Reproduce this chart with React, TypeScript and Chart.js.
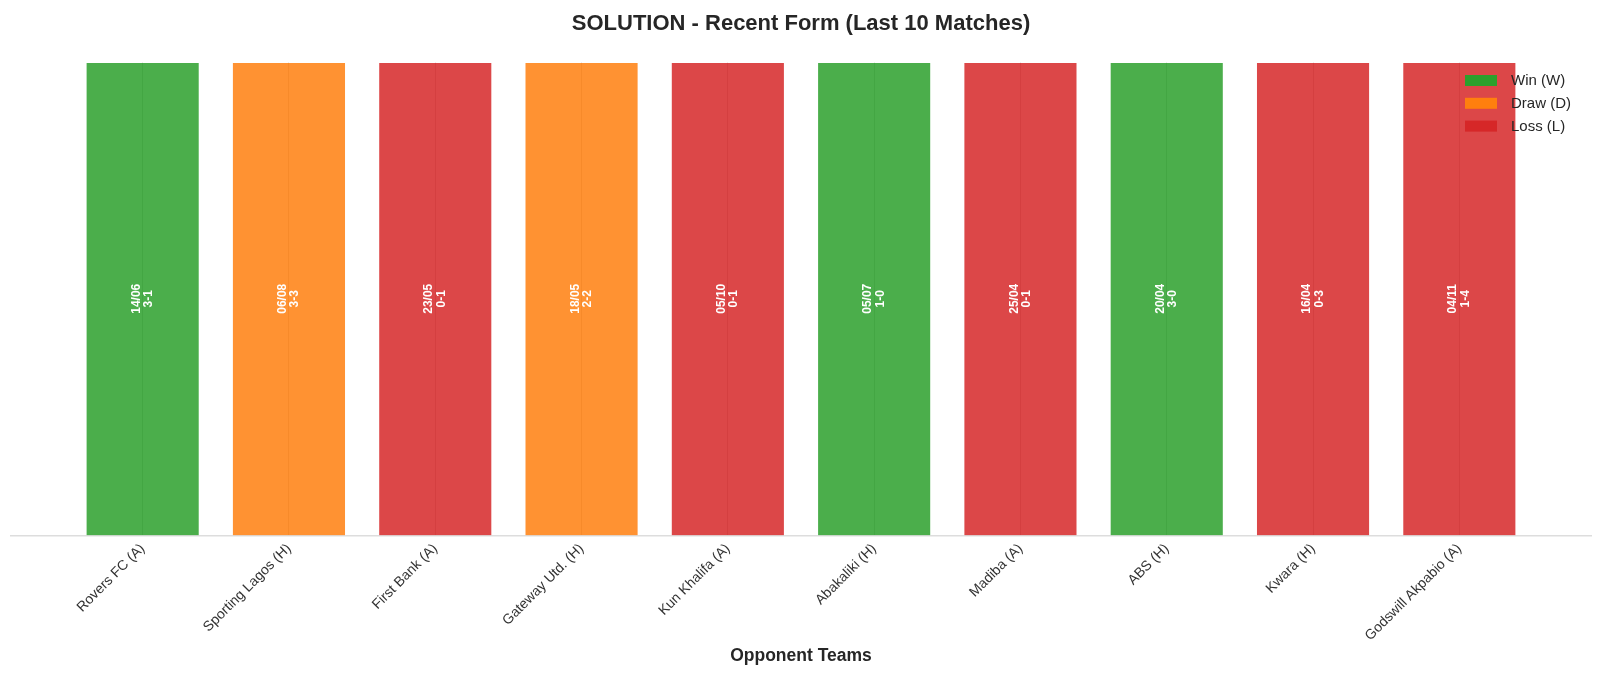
import { useEffect, useRef } from 'react';
import { Chart, registerables } from 'chart.js';

Chart.register(...registerables);

const OPPONENTS = [
  'Rovers FC (A)',
  'Sporting Lagos (H)',
  'First Bank (A)',
  'Gateway Utd. (H)',
  'Kun Khalifa (A)',
  'Abakaliki (H)',
  'Madiba (A)',
  'ABS (H)',
  'Kwara (H)',
  'Godswill Akpabio (A)'
];
const RESULTS = ['W', 'D', 'L', 'D', 'L', 'W', 'L', 'W', 'L', 'L'];
const DATES = ['14/06', '06/08', '23/05', '18/05', '05/10', '05/07', '25/04', '20/04', '16/04', '04/11'];
const SCORES = ['3-1', '3-3', '0-1', '2-2', '0-1', '1-0', '0-1', '3-0', '0-3', '1-4'];
const BAR_VALUES = [1, 1, 1, 1, 1, 1, 1, 1, 1, 1];

const LEGEND_LABELS = ['Win (W)', 'Draw (D)', 'Loss (L)'];
const LEGEND_KEYS = ['W', 'D', 'L'];

const SOLID: Record<string, string> = { W: '#2ca02c', D: '#ff7f0e', L: '#d62728' };
const FADED: Record<string, string> = {
  W: 'rgba(44,160,44,0.85)',
  D: 'rgba(255,127,14,0.85)',
  L: 'rgba(214,39,40,0.85)'
};

const FONT = "'Liberation Sans', Arial, sans-serif";
const TEXT = '#262626';

// date + score written sideways in the middle of each bar
const barText = {
  id: 'barText',
  afterDatasetsDraw(chart: Chart) {
    const { ctx } = chart;
    const meta = chart.getDatasetMeta(0);
    ctx.save();
    ctx.fillStyle = '#ffffff';
    ctx.font = `bold 12px ${FONT}`;
    ctx.textAlign = 'center';
    ctx.textBaseline = 'middle';
    meta.data.forEach((el: any, i: number) => {
      const cy = (el.y + el.base) / 2;
      ctx.save();
      ctx.translate(el.x, cy);
      ctx.rotate(-Math.PI / 2);
      ctx.fillText(DATES[i], 0, -6.2);
      ctx.fillText(SCORES[i], 0, 6.2);
      ctx.restore();
    });
    ctx.restore();
  }
};

// legend sits inside the plot, top right
const formLegend = {
  id: 'formLegend',
  afterDraw(chart: Chart) {
    const { ctx } = chart;
    ctx.save();
    ctx.font = `15px ${FONT}`;
    ctx.textBaseline = 'middle';
    ctx.textAlign = 'left';
    LEGEND_LABELS.forEach((label, i) => {
      const top = 75 + i * 22.8;
      ctx.fillStyle = SOLID[LEGEND_KEYS[i]];
      ctx.fillRect(1465, top, 32, 11);
      ctx.fillStyle = TEXT;
      ctx.fillText(label, 1511, top + 6);
    });
    ctx.restore();
  }
};

export default function App() {
  const canvasRef = useRef<HTMLCanvasElement | null>(null);
  const chartRef = useRef<Chart<'bar'> | null>(null);

  useEffect(() => {
    document.body.style.margin = '0';
    if (!canvasRef.current) return;
    if (chartRef.current) chartRef.current.destroy();

    const ctx = canvasRef.current.getContext('2d');
    if (!ctx) return;

    chartRef.current = new Chart(ctx, {
      type: 'bar',
      data: {
        datasets: [
          {
            label: 'Form',
            data: BAR_VALUES.map((v, i) => ({ x: i, y: v })),
            backgroundColor: RESULTS.map(r => FADED[r]),
            borderColor: 'rgba(255,255,255,0.7)',
            borderWidth: 1,
            categoryPercentage: 1,
            barPercentage: 0.78
          }
        ]
      },
      options: {
        animation: false,
        responsive: true,
        maintainAspectRatio: false,
        layout: { padding: { left: 11, right: 9, top: 0, bottom: 0 } },
        scales: {
          x: {
            type: 'linear',
            offset: false,
            min: -0.9,
            max: 9.9,
            afterBuildTicks: (scale: any) => {
              scale.ticks = OPPONENTS.map((_, i) => ({ value: i }));
            },
            afterFit: (scale: any) => {
              scale.height = 143.5;
            },
            ticks: {
              callback: (v: any) => OPPONENTS[Number(v)] ?? '',
              color: '#333333',
              font: { family: FONT, size: 14 },
              maxRotation: 45,
              minRotation: 45,
              padding: 5,
              autoSkip: false
            },
            grid: { offset: false, color: '#c8c8c8', lineWidth: 1, drawTicks: false },
            border: { display: true, color: '#dddddd', width: 1.5 },
            title: {
              display: true,
              text: 'Opponent Teams',
              color: TEXT,
              font: { family: FONT, size: 17.5, weight: 'bold' },
              padding: { top: 0, bottom: 12 }
            }
          },
          y: {
            display: false,
            min: 0,
            max: 1
          }
        },
        plugins: {
          legend: { display: false },
          tooltip: { enabled: false },
          title: {
            display: true,
            text: 'SOLUTION - Recent Form (Last 10 Matches)',
            color: TEXT,
            font: { family: FONT, size: 22, weight: 'bold' },
            padding: { top: 10.8, bottom: 24.8 }
          }
        }
      },
      plugins: [barText, formLegend]
    });

    return () => {
      if (chartRef.current) {
        chartRef.current.destroy();
        chartRef.current = null;
      }
    };
  }, []);

  return (
    <div style={{ position: 'relative', width: '1600px', height: '679px', background: '#ffffff' }}>
      <canvas ref={canvasRef} aria-label="Recent form, last 10 matches" />
    </div>
  );
}
